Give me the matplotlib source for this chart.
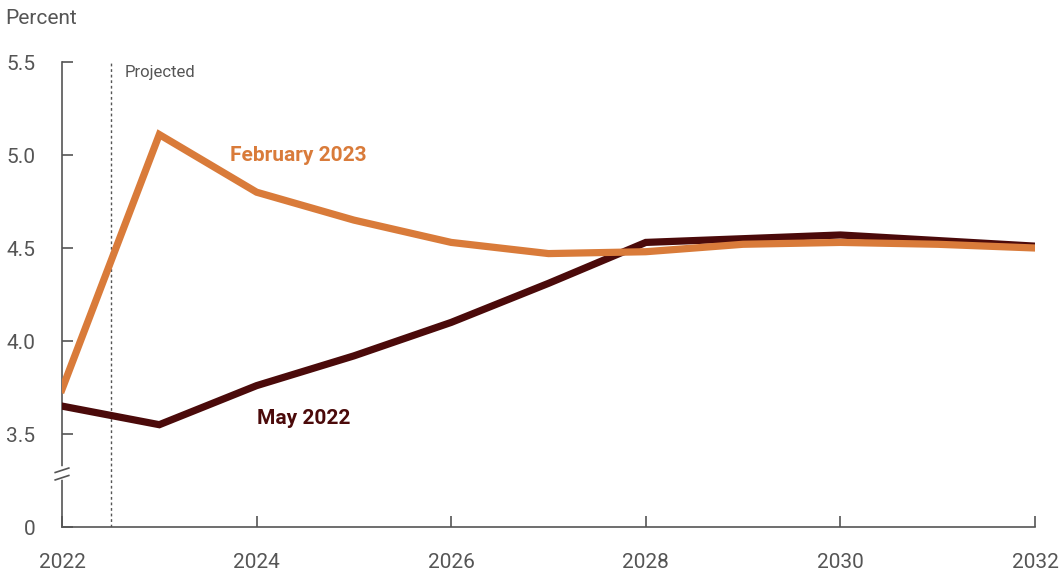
import matplotlib.pyplot as plt
import numpy as np

plt.rcParams['font.family'] = ['Roboto', 'DejaVu Sans']

years = [2022, 2023, 2024, 2025, 2026, 2027, 2028, 2029, 2030, 2031, 2032]
may_2022 = [3.65, 3.55, 3.76, 3.92, 4.10, 4.31, 4.53, 4.55, 4.57, 4.54, 4.51]
feb_2023 = [3.74, 5.11, 4.80, 4.65, 4.53, 4.47, 4.48, 4.52, 4.53, 4.52, 4.50]

ytick_vals = [3.0, 3.5, 4.0, 4.5, 5.0, 5.5]
ytick_labels = ['0', '3.5', '4.0', '4.5', '5.0', '5.5']
xtick_vals = [2022, 2024, 2026, 2028, 2030, 2032]

orange = '#D97B3A'
brown = '#4B0A0A'
gray = '#555555'

fig = plt.figure(figsize=(10.6, 5.73), dpi=100)
ax = fig.add_axes([62 / 1060, 1 - 527 / 573, (1035 - 62) / 1060, (527 - 62) / 573])

ax.plot(years, may_2022, color=brown, lw=5.2, solid_joinstyle='miter', zorder=3)
ax.plot(years, feb_2023, color=orange, lw=5.2, solid_joinstyle='miter', zorder=4)

ax.axvline(2022.5, color=gray, lw=1, ls=(0, (2, 2)), zorder=2)
ax.text(2022.64, 5.445, 'Projected', color=gray, fontsize=12, va='center', ha='left')

ax.text(2023.73, 5.0, 'February 2023', color=orange, fontsize=15, fontweight='bold', va='center')
ax.text(2024.0, 3.585, 'May 2022', color=brown, fontsize=15, fontweight='bold', va='center')

ax.set_xlim(2022, 2032)
ax.set_ylim(3.0, 5.5)
ax.set_yticks(ytick_vals)
ax.set_yticklabels(ytick_labels)
ax.set_xticks(xtick_vals)

for s in ['top', 'right']:
    ax.spines[s].set_visible(False)
for s in ['left', 'bottom']:
    ax.spines[s].set_color(gray)
    ax.spines[s].set_linewidth(1.2)

ax.tick_params(axis='both', direction='in', length=8, width=1.2, color=gray,
               labelcolor=gray, labelsize=15)
ax.tick_params(axis='y', pad=19)
ax.tick_params(axis='x', pad=19)

# axis break on the y spine
ax.plot([2022, 2022], [3.27, 3.31], color='white', lw=4, clip_on=False, zorder=5)
for yb in [3.265, 3.305]:
    ax.plot([2021.93, 2022.07], [yb - 0.012, yb + 0.012], color=gray, lw=1.2,
            clip_on=False, zorder=6)

fig.text(5 / 1060, 1 - 19 / 573, 'Percent', color=gray, fontsize=15, va='center', ha='left')

fig.savefig('out.png', dpi=100)
